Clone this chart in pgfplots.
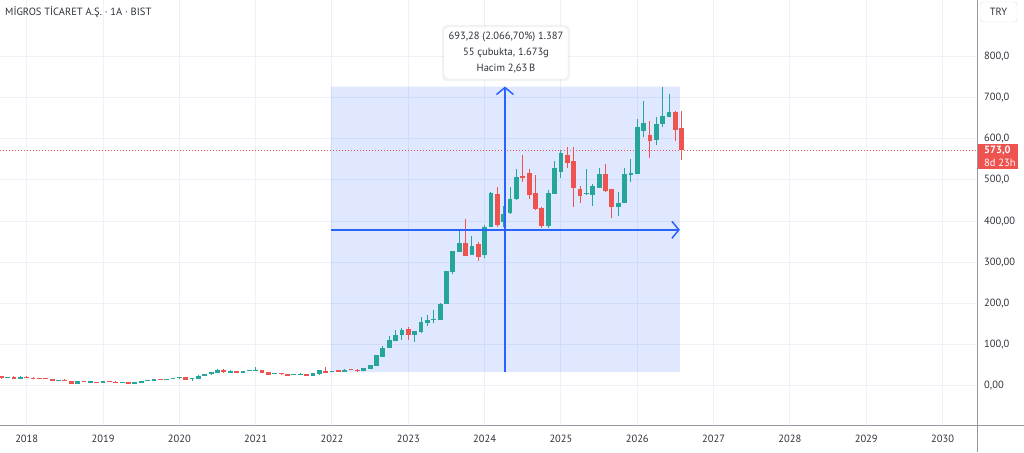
\documentclass[border=0pt]{standalone}
\usepackage{fontspec}
\setmainfont{PT Sans}
\usepackage{pgfplots}
\pgfplotsset{compat=1.18}
\usepackage{pgfplotstable}
\usetikzlibrary{arrows.meta}
\definecolor{upc}{HTML}{26A69A}
\definecolor{dnc}{HTML}{EF5350}
\definecolor{tvblue}{HTML}{2962FF}
\definecolor{gridc}{HTML}{EEF1F8}
\definecolor{txt}{HTML}{2E323C}
\definecolor{axc}{HTML}{9598A1}

% up candles: month index (0 = Jan 2022), open, high, low, close
\pgfplotstableread{
m o h l c
-51 19.5 22 19 21.5
-49 18 23.5 17.5 23
-43 13 14.5 11 14
-40 6 11.5 5.5 11
-38 8 11.5 7.5 11
-36 8 12.5 7.5 12
-33 7 8.5 6.5 8
-31 6 8.5 5.5 8
-30 7 12.5 6.5 12
-29 12 14.5 11.5 14
-28 12 16.5 11.5 16
-26 14 18 13.5 16
-25 17 19.5 16.5 19
-24 18.6 22.5 18 21.8
-22 16 18.5 13 18
-21 18 25.5 17.5 25
-20 24 29.5 23.5 29
-19 28 33.5 27.5 33
-18 32 40.5 31.5 40
-16 32 39 31.5 36
-14 31 37.5 30.5 37
-13 37 38 36.5 37.5
-12 37 46 36.5 39
-9 29 31.5 28.5 31
-6 27 28.5 26.5 28
-5 27 31 26.5 29
-3 25 31.5 24.5 31
-2 28 38.5 27.5 38
0 34 36.5 33.5 36
2 35 41 34 40
5 37 44.5 36.5 44
6 41 52 40.5 51
7 48 75.5 47.5 75
8 71 97 70 93
9 92 121 91 112
10 109 136 108 124
11 123 140 112 136
13 124 134 107.6 133.5
14 130 167 129 155.7
15 154 172 146 160.5
16 160 184 152 161
17 160 200.5 159 200
18 200 280 199 279
19 277 328 273 327.6
20 326 380 325 346
22 319 364 318 340
24 318 390 310 387
25 387 471 386 468
27 398 437 385 417
28 420 482 418 455
29 453 526 452 508
34 389 476 383 468
35 466 546 465 528
36 520 573 506 565
40 465 526 463 467
41 464 491 437 485
42 481 528 480 515
45 434 470 413 443
46 445 528 444 514
47 513 550 496 516
48 515 647 514 629
49 618 692 604 639
51 597 652 585 635
52 636 726.8 628 655
53 654 709 652 666
}\upT

% down candles
\pgfplotstableread{
m o h l c
-52 24 25 18 19
-50 22 25 17.5 18
-48 23 24 19.5 20
-47 20 22.5 16.5 17
-46 18 19 16.5 17
-45 18 19 16 16.5
-44 17 17.5 11.5 12
-42 14 16 11.5 12
-41 12 12.5 6 6
-39 12 12.5 8.5 9
-37 10 10.5 6.5 7
-35 12 12.5 8.5 9
-34 10 12.5 6.5 7
-32 8 8.5 5.5 6
-27 15 16 13.5 14
-23 21 21.5 14.5 15
-17 39 41 32.5 33
-15 36 36.5 30.5 31
-11 39 39.5 30.5 31
-10 33 33.5 26.5 27
-8 30 30.5 27.5 28
-7 29 29.5 24.5 25
-4 28 28.5 24.5 25
-1 37 46 30.5 31
1 38 38.5 33.5 35
3 41 42 38.5 39
4 40 40.5 34 37
12 137.5 142 112 124.6
21 348 405 315 316
23 344.6 350 304 314
26 465 482 385 391
30 508 561 496 506
31 516 526 455 464
32 469 512 428 430
33 431 435 383 389
37 561 581 528 542
38 546 579 435 480
39 479 486 445 460
43 515 540 472 473
44 477 478 407 434
50 609 643 553 594
54 664 667 595 621
55 625 667 548 573
}\dnT

\begin{document}
\begin{tikzpicture}[x=1pt,y=1pt]
\useasboundingbox (0,0) rectangle (1024,452);
\begin{axis}[
  at={(0pt,27pt)}, anchor=south west, scale only axis,
  width=977pt, height=425pt,
  xmin=-52.2, xmax=101.42, ymin=-94.7, ymax=936.9,
  axis line style={draw=none},
  major tick length=0pt,
  xtick={-48,-36,-24,-12,0,12,24,36,48,60,72,84,96},
  xticklabels={2018,2019,2020,2021,2022,2023,2024,2025,2026,2027,2028,2029,2030},
  ytick={0,100,200,300,400,500,600,700,800},
  yticklabels={{0,00},{100,0},{200,0},{300,00},{400,00},{500,0},{600,0},{700,0},{800,0}},
  yticklabel pos=right,
  grid=major, major grid style={draw=gridc, line width=1pt},
  ticklabel style={font=\fontsize{10.5}{12}\selectfont, text=txt},
  yticklabel style={anchor=west, inner sep=0pt, xshift=7pt},
  xticklabel style={anchor=center, inner sep=0pt, yshift=-14pt},
  clip=false,
  candle/.style={draw=none, mark=none, forget plot},
]
% measuring range
\addplot[draw=none, fill=tvblue, fill opacity=0.15, forget plot]
  coordinates {(-0.16,33.5) (54.7,33.5) (54.7,726.8) (-0.16,726.8) (-0.16,33.5)};
% dotted last price line
\addplot[dnc, line width=0.8pt, dash pattern=on 1pt off 2pt, forget plot]
  coordinates {(-52.2,573) (101.42,573)};
% wicks
\addplot[candle,
  error bars/.cd, y dir=plus, y explicit, error mark=none,
  error bar style={draw=upc, line width=1pt}]
  table[x=m, y=l, y error plus expr={\thisrow{h}-\thisrow{l}}] {\upT};
\addplot[candle,
  error bars/.cd, y dir=plus, y explicit, error mark=none,
  error bar style={draw=dnc, line width=1pt}]
  table[x=m, y=l, y error plus expr={\thisrow{h}-\thisrow{l}}] {\dnT};
% bodies
\addplot[candle,
  error bars/.cd, y dir=plus, y explicit, error mark=none,
  error bar style={draw=upc, line width=4.8pt}]
  table[x=m, y=o, y error plus expr={max(\thisrow{c}-\thisrow{o},2.6)}] {\upT};
\addplot[candle,
  error bars/.cd, y dir=plus, y explicit, error mark=none,
  error bar style={draw=dnc, line width=4.8pt}]
  table[x=m, y=c, y error plus expr={max(\thisrow{o}-\thisrow{c},2.6)}] {\dnT};
% arrows
\addplot[tvblue, line width=1.5pt, -{Straight Barb[length=7pt,width=17pt,line width=1.5pt]}, forget plot]
  coordinates {(27.2,33.5) (27.2,726.8)};
\addplot[tvblue, line width=1.5pt, -{Straight Barb[length=7pt,width=17pt,line width=1.5pt]}, forget plot]
  coordinates {(-0.16,379) (54.7,379)};
\end{axis}

% price scale border and time scale border
\draw[axc, line width=0.8pt] (977,0) -- (977,452);
\draw[axc, line width=0.8pt] (0,27) -- (1024,27);

% title
\node[anchor=west, inner sep=0pt, text=txt, font=\fontsize{10.5}{12}\selectfont] at (5,440)
  {MİGROS TİCARET A.Ş. · 1A · BIST};

% currency box
\filldraw[fill=white, draw=black!12, rounded corners=3pt] (980,430) rectangle (1017,450);
\node[text=txt, font=\fontsize{10.5}{12}\selectfont] at (998.5,440) {TRY};

% last price label
\fill[dnc] (977.5,308) rectangle (1017.5,283);
\node[anchor=west, inner sep=0pt, text=white, font=\bfseries\fontsize{10.5}{12}\selectfont] at (984,301.5) {573,0};
\node[anchor=west, inner sep=0pt, text=white, font=\fontsize{10.5}{12}\selectfont] at (984,289) {8d 23h};

% tooltip
\fill[black, opacity=0.05, rounded corners=5pt] (442,371) rectangle (570,427);
\filldraw[fill=white, draw=black!8, rounded corners=4pt] (444,373) rectangle (568,425);
\node[align=center, text=txt, font=\fontsize{10.5}{16}\selectfont] at (506,399)
  {693,28 (2.066,70\%) 1.387\\55 çubukta, 1.673g\\Hacim 2,63\,B};
\end{tikzpicture}
\end{document}
